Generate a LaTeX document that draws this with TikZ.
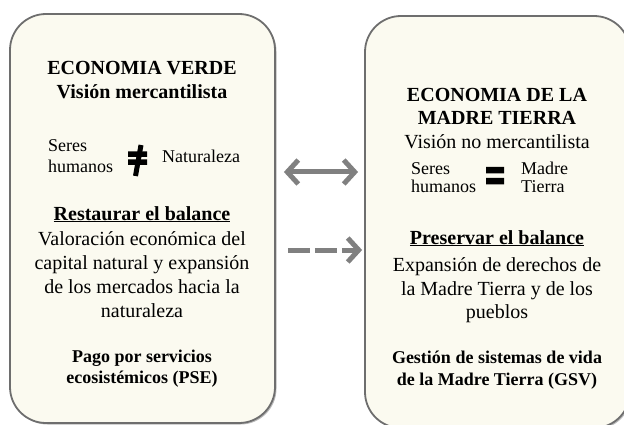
\documentclass[tikz,border=0pt]{standalone}
\usepackage{fontspec}
\setmainfont{Liberation Serif}
\usetikzlibrary{arrows.meta,shadows}
\definecolor{boxfill}{RGB}{251,250,240}
\definecolor{boxline}{RGB}{110,110,110}
\definecolor{arrowgray}{RGB}{128,128,128}
\tikzset{
  panel/.style={draw=boxline, line width=1.8pt, fill=boxfill, rounded corners=36pt,
    minimum width=265pt, inner sep=0pt,
    drop shadow={shadow xshift=1.5pt, shadow yshift=-1.5pt, opacity=0.45, fill=black!60}},
  big/.style={inner sep=0pt, font=\fontsize{20}{24}\selectfont, anchor=base},
  bigb/.style={inner sep=0pt, font=\fontsize{20}{24}\selectfont\bfseries, anchor=base},
  small/.style={inner sep=0pt, font=\fontsize{18}{21}\selectfont, anchor=base west},
  smallb/.style={inner sep=0pt, font=\fontsize{18}{21}\selectfont\bfseries, anchor=base},
  link/.style={draw=arrowgray, line width=5pt,
    arrows={-Straight Barb[length=11pt,width=24pt,line width=5pt]}},
}
\begin{document}
\begin{tikzpicture}[x=1pt,y=-1pt]
\useasboundingbox (0,0) rectangle (624,425);
\clip (0,0) rectangle (624,425);
% panels
\node[panel, minimum height=409pt] (L) at (142.5,218.5) {};
\node[panel, minimum height=412pt] (R) at (497.5,222) {};
% left panel text
\node[bigb] (l1) at (142,75) {ECONOMIA VERDE};
\node[bigb] (l2) at (142,99) {Visión mercantilista};
\node[small] (l3) at (48,152) {Seres};
\node[small] (l4) at (48,173) {humanos};
\node[small] (l5) at (162,163) {Naturaleza};
\fill (128,151.5) rectangle (147,157) (128,159.5) rectangle (147,165);
\draw[line width=5pt] (141,145) -- (135.5,176);
\node[bigb] (l6) at (142,220) {\underline{Restaurar el balance}};
\node[big] (l7) at (142,245) {Valoración económica del};
\node[big] (l8) at (142,269) {capital natural y expansión};
\node[big] (l9) at (142,293) {de los mercados hacia la};
\node[big] (l10) at (142,317) {naturaleza};
\node[smallb] (l11) at (142,362) {Pago por servicios};
\node[smallb] (l12) at (142,383) {ecosistémicos (PSE)};
% right panel text
\node[bigb] (r1) at (497,102) {ECONOMIA DE LA};
\node[bigb] (r2) at (497,125) {MADRE TIERRA};
\node[big] (r3) at (497,149) {Visión no mercantilista};
\node[small] (r4) at (411,175) {Seres};
\node[small] (r5) at (411,193) {humanos};
\node[small] (r6) at (521,175) {Madre};
\node[small] (r7) at (521,193) {Tierra};
\fill (486,167) rectangle (504,173.5) (486,178) rectangle (504,184.5);
\node[bigb] (r8) at (497,244) {\underline{Preservar el balance}};
\node[big] (r9) at (497,271) {Expansión de derechos de};
\node[big] (r10) at (497,295) {la Madre Tierra y de los};
\node[big] (r11) at (497,318) {pueblos};
\node[smallb] (r12) at (497,363) {Gestión de sistemas de vida};
\node[smallb] (r13) at (497,385) {de la Madre Tierra (GSV)};
% connectors
\coordinate (a1) at (L.east |- 0,172);
\coordinate (a2) at (R.west |- 0,172);
\coordinate (b1) at (L.east |- 0,250);
\coordinate (b2) at (R.west |- 0,250);
\draw[link, arrows={Straight Barb[length=11pt,width=24pt,line width=5pt]-Straight Barb[length=11pt,width=24pt,line width=5pt]},
  shorten <=8pt, shorten >=6pt] (a1) -- (a2);
\draw[link, dash pattern=on 22pt off 5pt, shorten <=12pt, shorten >=2pt] (b1) -- (b2);
\end{tikzpicture}
\end{document}
